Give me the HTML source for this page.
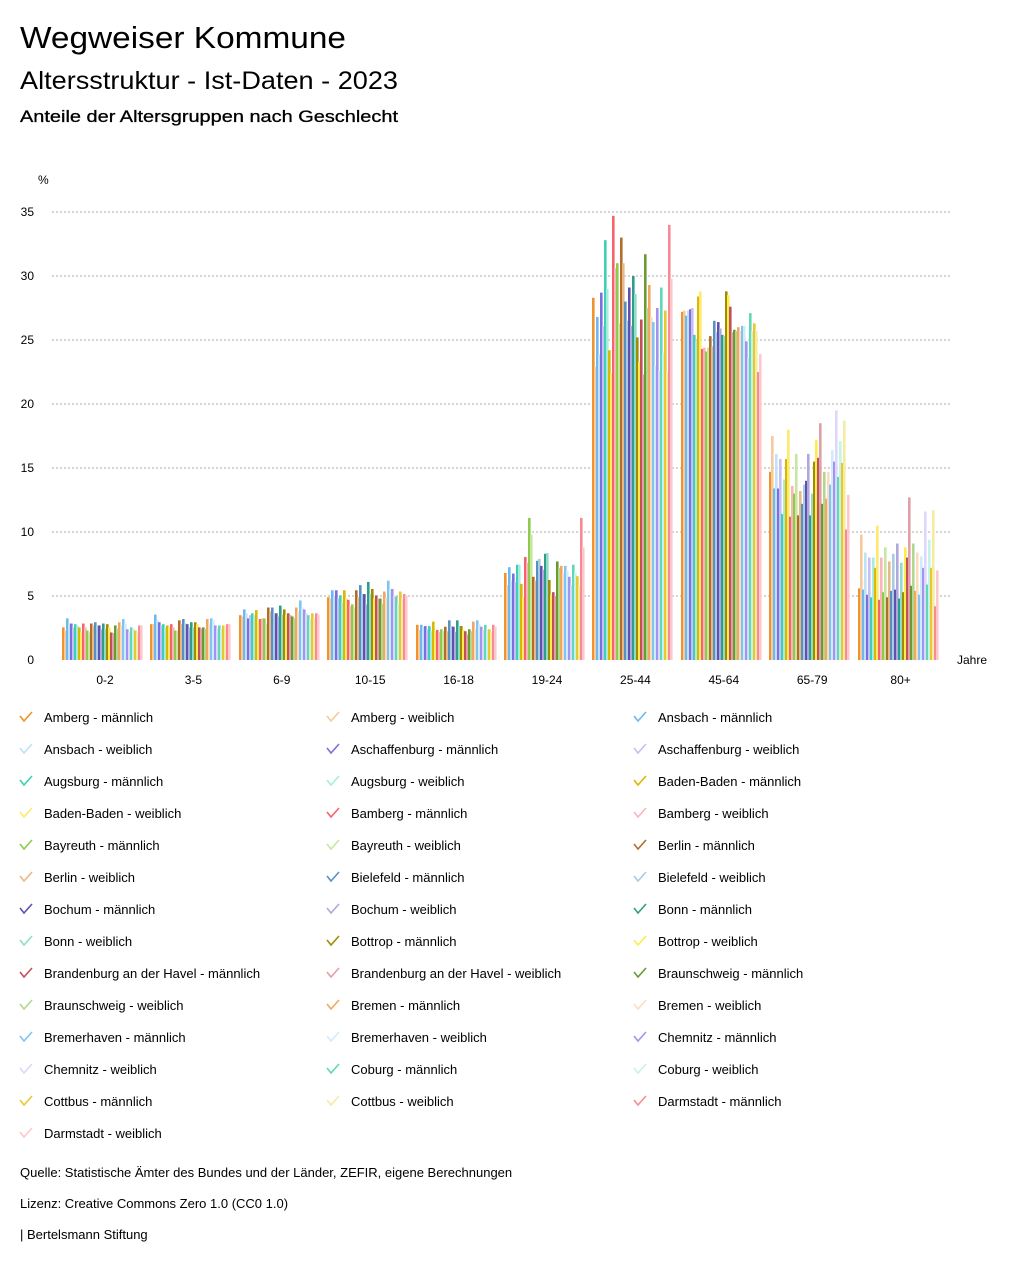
<!DOCTYPE html>
<html><head><meta charset="utf-8"><style>
body{margin:0;background:#fff;font-family:"Liberation Sans",sans-serif;}
svg text{font-family:"Liberation Sans",sans-serif;}
</style></head><body>
<svg id="chart" width="1024" height="1267" viewBox="0 0 1024 1267" xmlns="http://www.w3.org/2000/svg">
<text x="20" y="48" font-size="31" fill="#000" textLength="326" lengthAdjust="spacingAndGlyphs">Wegweiser Kommune</text>
<text x="20" y="89" font-size="25" fill="#000" textLength="378" lengthAdjust="spacingAndGlyphs">Altersstruktur - Ist-Daten - 2023</text>
<text x="20" y="122" font-size="17" fill="#000" stroke="#000" stroke-width="0.3" textLength="378" lengthAdjust="spacingAndGlyphs">Anteile der Altersgruppen nach Geschlecht</text>
<text x="38" y="184" font-size="12" fill="#000">%</text>
<text x="957" y="664" font-size="12" fill="#000">Jahre</text>
<g id="grid"></g><g id="bars"></g><g id="xlabels"></g><g id="legend"></g>
<text x="20" y="1177" font-size="13" fill="#000">Quelle: Statistische Ämter des Bundes und der Länder, ZEFIR, eigene Berechnungen</text>
<text x="20" y="1208" font-size="13" fill="#000">Lizenz: Creative Commons Zero 1.0 (CC0 1.0)</text>
<text x="20" y="1239" font-size="13" fill="#000">| Bertelsmann Stiftung</text>
</svg>
<script>
const categories=["0-2","3-5","6-9","10-15","16-18","19-24","25-44","45-64","65-79","80+"];
const seriesNames=["Amberg - männlich","Amberg - weiblich","Ansbach - männlich","Ansbach - weiblich","Aschaffenburg - männlich","Aschaffenburg - weiblich","Augsburg - männlich","Augsburg - weiblich","Baden-Baden - männlich","Baden-Baden - weiblich","Bamberg - männlich","Bamberg - weiblich","Bayreuth - männlich","Bayreuth - weiblich","Berlin - männlich","Berlin - weiblich","Bielefeld - männlich","Bielefeld - weiblich","Bochum - männlich","Bochum - weiblich","Bonn - männlich","Bonn - weiblich","Bottrop - männlich","Bottrop - weiblich","Brandenburg an der Havel - männlich","Brandenburg an der Havel - weiblich","Braunschweig - männlich","Braunschweig - weiblich","Bremen - männlich","Bremen - weiblich","Bremerhaven - männlich","Bremerhaven - weiblich","Chemnitz - männlich","Chemnitz - weiblich","Coburg - männlich","Coburg - weiblich","Cottbus - männlich","Cottbus - weiblich","Darmstadt - männlich","Darmstadt - weiblich"];
const colors=["#f0922e","#f8c99a","#6cb8f0","#bfe2f8","#7b6fe0","#c6bff5","#3fcfb5","#a8ece0","#d9b800","#fde96a","#f5636b","#f9b5bb","#8ccc4a","#c8e6a0","#b06e2a","#e8b888","#5890c0","#a8cce4","#6050b0","#b0a8dc","#2f9e88","#90dcc8","#a08c00","#fcec50","#c0505a","#e0a0a8","#6a9a30","#b0d890","#f0a860","#fcdcbc","#80c4f4","#d0ecfc","#a094f0","#dcd8fc","#60d8b8","#c4f4e8","#e8c830","#f4eca0","#f98a95","#fcc8cc"];
const v0_2=[2.55,2.3,3.25,2.85,2.85,2.55,2.8,2.7,2.55,2.15,2.85,2.55,2.3,2.15,2.85,2.7,2.95,2.7,2.7,2.4,2.85,2.45,2.8,2.55,2.15,2.1,2.7,2.45,2.95,2.7,3.2,2.85,2.4,2.15,2.55,2.45,2.3,2.1,2.7,2.7];
const v3_5=[2.8,2.8,3.55,3.1,2.95,2.7,2.8,2.55,2.7,2.55,2.8,2.55,2.3,2.3,3.1,2.8,3.2,2.85,2.8,2.55,2.95,2.55,2.95,2.8,2.55,2.45,2.55,2.45,3.2,2.85,3.25,3.1,2.7,2.45,2.7,2.45,2.7,2.55,2.8,2.8];
const v6_9=[3.5,3.4,3.95,3.65,3.25,3.5,3.65,3.5,3.9,3.2,3.2,3.25,3.25,2.85,4.1,3.8,4.1,3.65,3.65,3.4,4.25,3.55,3.95,3.55,3.65,3.5,3.4,3.25,4.1,3.8,4.65,4.1,3.95,3.65,3.5,3.2,3.65,3.25,3.65,3.55];
const v10_15=[4.9,4.8,5.45,5.0,5.45,4.8,5.05,4.5,5.45,4.8,4.7,4.2,4.35,4.1,5.45,4.9,5.85,5.15,5.15,4.35,6.1,5.15,5.55,4.8,5.05,4.8,4.8,4.4,5.35,4.9,6.2,5.55,5.55,5.05,4.95,4.4,5.35,4.75,5.15,5.05];
const v16_18=[2.75,2.35,2.75,2.6,2.65,2.4,2.65,2.25,3.0,2.25,2.35,2.2,2.4,2.25,2.6,2.25,3.1,2.65,2.6,2.2,3.1,2.65,2.65,2.35,2.25,2.0,2.4,2.25,3.0,2.4,3.1,2.8,2.6,2.35,2.75,2.35,2.4,2.2,2.75,2.6];
const v19_24=[6.8,5.85,7.25,6.2,6.75,6.1,7.45,7.45,5.95,4.9,8.05,7.6,11.1,9.8,6.5,6.2,7.75,7.9,7.35,7.05,8.3,8.35,6.25,5.1,5.3,5.0,7.7,7.2,7.35,6.8,7.35,6.95,6.5,5.85,7.45,6.8,6.55,5.8,11.1,8.8];
const v25_44=[28.3,22.9,26.8,23.9,28.7,26.1,32.8,29.0,24.2,22.4,34.7,30.6,31.0,26.3,33.0,31.0,28.0,26.5,29.1,26.1,30.0,28.6,25.2,23.3,26.6,22.3,31.7,27.5,29.3,26.8,26.4,23.0,27.5,22.6,29.1,24.0,27.3,22.5,34.0,29.8];
const v45_64=[27.2,27.3,26.9,27.3,27.4,27.5,25.4,24.9,28.4,28.8,24.3,24.4,24.1,24.4,25.3,24.5,26.5,25.6,26.4,25.9,25.4,25.3,28.8,28.5,27.6,25.6,25.8,25.7,26.0,25.7,26.1,26.1,24.9,23.6,27.1,25.7,26.3,25.7,22.5,23.9];
const v65_79=[14.7,17.5,13.4,16.1,13.4,15.7,11.4,14.1,15.7,18.0,11.2,13.6,13.0,16.1,11.3,13.2,12.2,13.7,14.0,16.1,11.3,13.0,15.5,17.2,15.8,18.5,12.2,14.7,12.6,14.7,13.7,16.4,15.5,19.5,14.3,17.1,15.4,18.7,10.2,12.9];
const v80=[5.6,9.8,5.5,8.4,5.1,8.0,4.9,8.0,7.2,10.5,4.7,8.0,5.3,8.8,4.9,7.7,5.4,8.3,5.5,9.1,4.8,7.6,5.3,8.8,8.0,12.7,5.8,9.1,5.4,8.4,5.1,8.1,7.2,11.6,5.9,9.4,7.2,11.7,4.2,7.0];
const groupValues=[v0_2,v3_5,v6_9,v10_15,v16_18,v19_24,v25_44,v45_64,v65_79,v80];
const yTicks=[0,5,10,15,20,25,30,35];

const NS="http://www.w3.org/2000/svg";
const y0=660, pxPerUnit=12.8;
function yScale(v){return y0-v*pxPerUnit;}
function xCenter(i){return 105+i*88.4;}
function xBar(i,s){return Math.round(xCenter(i)-43)+s*2;}
function mk(tag,attrs,parent){const e=document.createElementNS(NS,tag);for(const k in attrs)e.setAttribute(k,attrs[k]);parent.appendChild(e);return e;}

const grid=document.getElementById('grid');
yTicks.forEach(t=>{
  if(t>0){const l=mk('line',{x1:52,x2:952,y1:yScale(t),y2:yScale(t),stroke:'#aaa','stroke-dasharray':'2,2','stroke-width':1},grid);
  
  }
  const tx=mk('text',{x:34,y:yScale(t)+4,'font-size':12,'text-anchor':'end',fill:'#000'},grid);
  tx.textContent=t;
  
  
});

const bars=document.getElementById('bars');
groupValues.forEach((vals,i)=>{
  vals.forEach((v,s)=>{
    const r=mk('rect',{x:xBar(i,s),y:yScale(v),width:2.6,height:v*pxPerUnit,fill:colors[s]},bars);
    
    
  });
});

const xl=document.getElementById('xlabels');
categories.forEach((c,i)=>{
  const t=mk('text',{x:xCenter(i),y:684,'font-size':12,'text-anchor':'middle',fill:'#000'},xl);
  t.textContent=c;
  
  
});

const lg=document.getElementById('legend');
seriesNames.forEach((n,s)=>{
  const col=s%3,row=Math.floor(s/3);
  const x=20+col*307,y=717+row*32;
  const g=mk('g',{},lg);
  
  
  mk('path',{d:`M${x} ${y-1} L${x+4} ${y+4} L${x+12} ${y-5}`,stroke:colors[s],'stroke-width':1.6,fill:'none'},g);
  const t=mk('text',{x:x+24,y:y+5,'font-size':13,fill:'#000'},g);
  t.textContent=n;
});
</script>
</body></html>
